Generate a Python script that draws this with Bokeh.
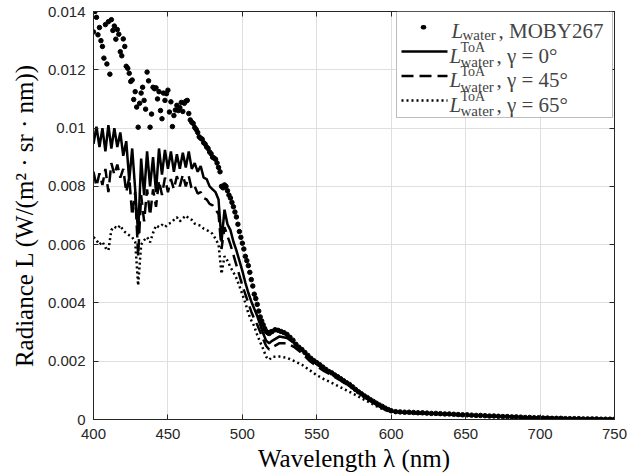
from bokeh.plotting import figure
from bokeh.models import Range1d, FixedTicker, LinearAxis, Label, Arrow, BoxAnnotation
from bokeh.embed import file_html
from bokeh.resources import INLINE

# ---------------- data ----------------
moby_wl = list(range(400, 521)) + list(range(522, 601, 2)) + list(range(603, 751, 3))
moby_rad = [
    .01330, .01400, .01380, .01320, .01345, .01300, .01280, .01240, .01355, .01220,
    .01365, .01185, .01372, .01335, .01350, .01305, .01338, .01322, .01262, .01248,
    .01306, .01280, .01212, .01205, .01188, .01160, .01165, .01098, .01125, .01072,
    .01003, .01085, .01120, .01140, .01095, .01065, .01192, .01162, .01003, .01048,
    .01140, .01135, .01138, .01100, .01125, .01060, .01032, .01120, .01095, .01118,
    .01130, .01055, .01090, .01005, .01043, .01062, .01078, .01060, .01070, .01088,
    .01057, .01085, .01092, .01095, .01050, .01028, .01020, .01016, .01002, .00995,
    .00985, .00970, .00965, .00962, .00950, .00945, .00935, .00930, .00918, .00912,
    .00900, .00897, .00893, .00880, .00865, .00850, .00800, .00795, .00805, .00800,
    .00785, .00770, .00760, .00745, .00730, .00712, .00695, .00670, .00645, .00625,
    .00605, .00585, .00560, .00545, .00528, .00505, .00480, .00458, .00430, .00415,
    .00395, .00372, .00352, .00338, .00325, .00312, .00302, .00298, .00295, .00300,
    .00302,
    .00308, .00306, .00302, .00298, .00292, .00282, .00272, .00258, .00248, .00240,
    .00230, .00220, .00210, .00202, .00195, .00188, .00180, .00172, .00165, .00160,
    .00153, .00147, .00140, .00133, .00126, .00120, .00112, .00103, .00095, .00088,
    .00081, .00075, .00068, .00062, .00056, .00050, .00045, .00039, .00034, .00030,
    .00027, .00026, .00025, .00025, .00024, .00023, .00023, .00022, .00021, .00021,
    .00020, .00019, .00019, .00018, .00017, .00016, .00016, .00015, .00014, .00014,
    .00013, .00012, .00012, .00011, .00010, .00010, .00009, .00009, .00008, .00007,
    .00007, .00006, .00006, .00005, .00005, .00004, .00004, .00004, .00003, .00003,
    .00003, .00003, .00002, .00002, .00002, .00002, .00001, .00001, .00001, .00001,
]

toa_wl = list(range(400, 521, 2)) + list(range(525, 601, 5)) + list(range(610, 751, 10))
toa_g0 = [
    .00946, .01005, .00935, .01000, .00920, .01010, .00930, .01000, .00935, .00985,
    .00905, .00955, .00820, .00930, .00790, .00635, .00895, .00770, .00920, .00800,
    .00900, .00780, .00930, .00840, .00925, .00860, .00920, .00850, .00910, .00860,
    .00915, .00865, .00920, .00860, .00880, .00850, .00870, .00830, .00825, .00800,
    .00790, .00780, .00755, .00610, .00720, .00670, .00650, .00610, .00580, .00545,
    .00510, .00470, .00435, .00405, .00380, .00355, .00325, .00295, .00270, .00262,
    .00270,
    .00285, .00280, .00262, .00240, .00210, .00190, .00172, .00158, .00142, .00125,
    .00108, .00090, .00070, .00052, .00038, .00028,
    .00024, .00022, .00020, .00018, .00015, .00013, .00012, .00010, .00008, .00006,
    .00005, .00004, .00003, .00002, .00002,
]
toa_g45 = [
    .00850, .00800, .00845, .00805, .00860, .00780, .00880, .00840, .00875, .00830,
    .00860, .00780, .00830, .00700, .00780, .00560, .00770, .00680, .00790, .00700,
    .00790, .00730, .00820, .00770, .00830, .00780, .00825, .00790, .00835, .00800,
    .00840, .00800, .00835, .00790, .00800, .00775, .00780, .00760, .00755, .00740,
    .00735, .00720, .00705, .00585, .00660, .00630, .00600, .00565, .00530, .00495,
    .00460, .00430, .00400, .00370, .00345, .00325, .00300, .00275, .00252, .00240,
    .00248,
    .00262, .00262, .00248, .00228, .00202, .00183, .00166, .00152, .00137, .00120,
    .00104, .00086, .00067, .00050, .00036, .00027,
    .00023, .00021, .00019, .00017, .00014, .00012, .00011, .00009, .00007, .00006,
    .00005, .00004, .00003, .00002, .00002,
]
toa_g65 = [
    .00626, .00615, .00600, .00610, .00590, .00580, .00650, .00662, .00655, .00666,
    .00648, .00640, .00632, .00625, .00610, .00460, .00600, .00615, .00626, .00608,
    .00640, .00666, .00660, .00668, .00660, .00671, .00675, .00685, .00694, .00680,
    .00690, .00700, .00690, .00685, .00672, .00668, .00665, .00655, .00650, .00645,
    .00637, .00620, .00600, .00500, .00560, .00545, .00523, .00505, .00485, .00458,
    .00430, .00400, .00365, .00340, .00320, .00290, .00265, .00242, .00215, .00205,
    .00215,
    .00216, .00212, .00200, .00188, .00170, .00152, .00138, .00126, .00113, .00100,
    .00087, .00073, .00060, .00046, .00034, .00026,
    .00022, .00020, .00018, .00016, .00014, .00012, .00010, .00009, .00007, .00006,
    .00005, .00004, .00003, .00002, .00001,
]

x_ticks = [400, 450, 500, 550, 600, 650, 700, 750]
y_ticks = [0, 0.002, 0.004, 0.006, 0.008, 0.01, 0.012, 0.014]
y_tick_labels = ["0", "0.002", "0.004", "0.006", "0.008", "0.01", "0.012", "0.014"]

# ---------------- figure ----------------
X0, X1, Y0, Y1 = 400, 750, 0, 0.014
FL, FT, FW, FH = 93, 11, 521, 408   # frame placement in pixels

p = figure(width=641, height=476, x_range=Range1d(X0, X1), y_range=Range1d(Y0, Y1),
           output_backend="svg", toolbar_location=None,
           min_border_left=FL, min_border_right=641 - FL - FW,
           min_border_top=FT, min_border_bottom=476 - FT - FH)
p.background_fill_color = "white"
p.border_fill_color = "white"
p.outline_line_color = "#262626"
p.outline_line_width = 1

AX = "#262626"
TICK_FONT = "Liberation Sans"
for ax, ticks in ((p.xaxis[0], x_ticks), (p.yaxis[0], y_ticks)):
    ax.ticker = FixedTicker(ticks=ticks)
    ax.axis_line_color = AX
    ax.major_tick_line_color = AX
    ax.major_tick_in = 5
    ax.major_tick_out = 0
    ax.minor_tick_line_color = None
    ax.major_label_text_font = TICK_FONT
    ax.major_label_text_font_size = "15px"
    ax.major_label_text_color = AX
    ax.axis_label_text_font = "Liberation Serif"
    ax.axis_label_text_font_size = "25px"
    ax.axis_label_text_font_style = "normal"
    ax.axis_label_text_color = "black"

p.yaxis.major_label_overrides = dict(zip(y_ticks, y_tick_labels))
p.xaxis.axis_label = "Wavelength λ (nm)"
p.yaxis.axis_label = "Radiance L (W/(m² · sr · nm))"
p.xaxis.major_label_standoff = 9
p.xaxis.axis_label_standoff = 3
p.yaxis.major_label_standoff = 8
p.yaxis.axis_label_standoff = 7

# mirrored ticks on top and right (box on)
right = LinearAxis(ticker=FixedTicker(ticks=y_ticks),
                   major_label_overrides={t: "" for t in y_ticks})
top = LinearAxis(ticker=FixedTicker(ticks=x_ticks),
                 major_label_overrides={t: "" for t in x_ticks})
for ax in (right, top):
    ax.axis_line_color = AX
    ax.major_tick_line_color = AX
    ax.major_tick_in = 5
    ax.major_tick_out = 0
    ax.minor_tick_line_color = None
    ax.major_label_text_font_size = "1px"
    ax.major_label_standoff = 0
p.add_layout(right, "right")
p.add_layout(top, "above")

p.grid.grid_line_color = "#dfdfdf"
p.grid.grid_line_width = 1
p.xgrid.ticker = FixedTicker(ticks=x_ticks)
p.ygrid.ticker = FixedTicker(ticks=y_ticks)

# ---------------- data glyphs ----------------
LW = 2.5
DASH = "12 6"
DOT = "2 3"
p.line(toa_wl, toa_g65, line_color="black", line_width=LW, line_dash=DOT)
p.line(toa_wl, toa_g45, line_color="black", line_width=LW, line_dash=DASH)
p.line(toa_wl, toa_g0, line_color="black", line_width=LW)
p.scatter(moby_wl, moby_rad, marker="circle", size=4.5, fill_color="black", line_color="black")

# ---------------- custom legend (pixel layout -> data units) ----------------
def dx(px):
    return X0 + (px - FL) / FW * (X1 - X0)

def dy(py):
    return Y0 + (FT + FH - py) / FH * (Y1 - Y0)

p.add_layout(BoxAnnotation(left=dx(396), right=dx(612), top=dy(11), bottom=dy(117),
                           fill_color="white", fill_alpha=1.0,
                           line_color="#262626", line_width=1, level="overlay"))

SERIF = "Liberation Serif"
rows = [
    (30.7, None, ", MOBY267"),
    (55.0, "solid", ", γ = 0°"),
    (79.5, DASH, ", γ = 45°"),
    (104.0, DOT, ", γ = 65°"),
]
for i, (base, dash, tail) in enumerate(rows):
    mid = base - 4
    if dash is None:
        p.add_layout(Arrow(end=None, x_start=dx(422.5), y_start=dy(mid), x_end=dx(423.5), y_end=dy(mid),
                           line_color="black", line_width=4.5, line_cap="round", level="overlay"))
    else:
        p.add_layout(Arrow(end=None, x_start=dx(401), y_start=dy(mid), x_end=dx(447), y_end=dy(mid),
                           line_color="black", line_width=LW, line_dash=dash, level="overlay"))
    lx = 451 if i == 0 else 449
    p.add_layout(Label(x=dx(lx), y=dy(base), text="L", text_font=SERIF, text_font_size="21px",
                       text_font_style="italic", text_baseline="alphabetic", text_align="left",
                       level="overlay"))
    p.add_layout(Label(x=dx(lx + 11), y=dy(base + (4 if i == 0 else 6.5)), text="water",
                       text_font=SERIF, text_font_size="15px", text_baseline="alphabetic",
                       text_align="left", level="overlay"))
    if i > 0:
        p.add_layout(Label(x=dx(lx + 11), y=dy(base - 8.5), text="ToA", text_font=SERIF,
                           text_font_size="14px", text_baseline="alphabetic", text_align="left",
                           level="overlay"))
    p.add_layout(Label(x=dx(lx + 47), y=dy(base), text=tail, text_font=SERIF, text_font_size="21px",
                       text_baseline="alphabetic", text_align="left", level="overlay"))

open("out.html", "w").write(file_html(p, INLINE))
